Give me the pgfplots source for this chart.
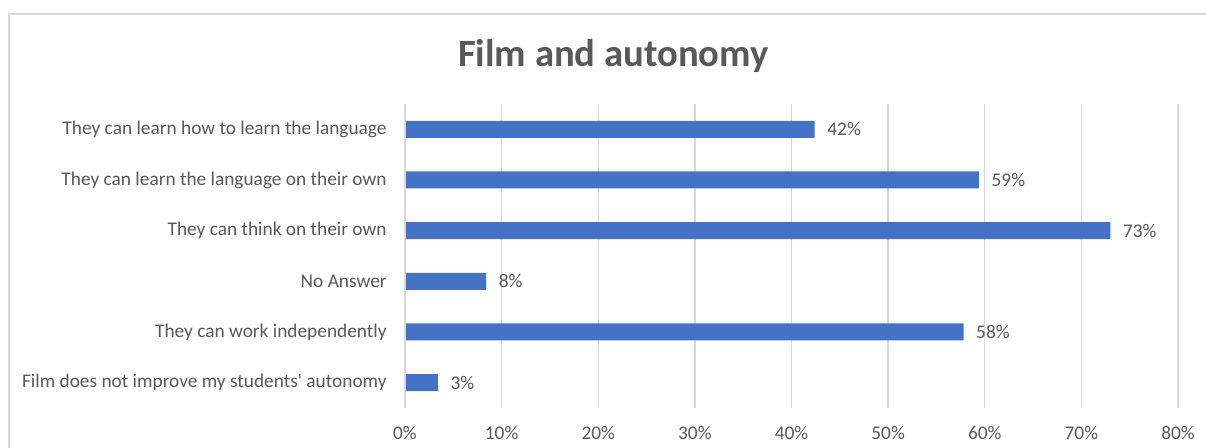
\documentclass[border=0pt]{standalone}
\usepackage{pgfplots}
\pgfplotsset{compat=1.18}
\usepackage{fontspec}
\setmainfont{Carlito}
\definecolor{barblue}{HTML}{4472C4}
\definecolor{txtgray}{HTML}{595959}
\definecolor{gridgray}{HTML}{D9D9D9}
\begin{document}
\begin{tikzpicture}
\path[use as bounding box] (0pt,0pt) rectangle (904.5pt,336pt);
\draw[gridgray, line width=1.1pt] (6.75pt,0pt) -- (6.75pt,325.5pt) -- (904.5pt,325.5pt);
\node[text=txtgray, font=\fontsize{29}{34}\selectfont\bfseries] at (460pt,294pt) {Film and autonomy};
\begin{axis}[
  at={(303.75pt,30pt)}, anchor=south west,
  scale only axis, width=579.75pt, height=228pt,
  xbar, bar width=12.75pt,
  xmin=0, xmax=80, ymin=-0.5, ymax=5.5,
  xtick={0,10,...,80},
  xticklabel={\pgfmathprintnumber{\tick}\%},
  ytick={0,1,2,3,4,5},
  yticklabels={Film does not improve my students\textquotesingle\ autonomy, They can work independently, No Answer, They can think on their own, They can learn the language on their own, They can learn how to learn the language},
  xmajorgrids, grid style={gridgray, line width=1.1pt},
  axis line style={draw=none},
  tick style={draw=none},
  ticklabel style={text=txtgray, font=\fontsize{14.5}{17}\selectfont},
  /pgf/number format/assume math mode=true,
  xticklabel style={yshift=-10pt},
  yticklabel style={xshift=-6pt},
  point meta=x,
  nodes near coords={\pgfmathprintnumber[fixed,precision=0]{\pgfplotspointmeta}\%},
  nodes near coords style={text=txtgray, font=\fontsize{14.5}{17}\selectfont, xshift=6pt},
  clip=false,
]
\addplot[fill=barblue, draw=none] coordinates {
 (3.4,0) (57.8,1) (8.4,2) (73.0,3) (59.4,4) (42.4,5)
};
\draw[gridgray, line width=1.1pt] (axis cs:0,-0.5) -- (axis cs:0,5.5);
\end{axis}
\end{tikzpicture}
\end{document}
